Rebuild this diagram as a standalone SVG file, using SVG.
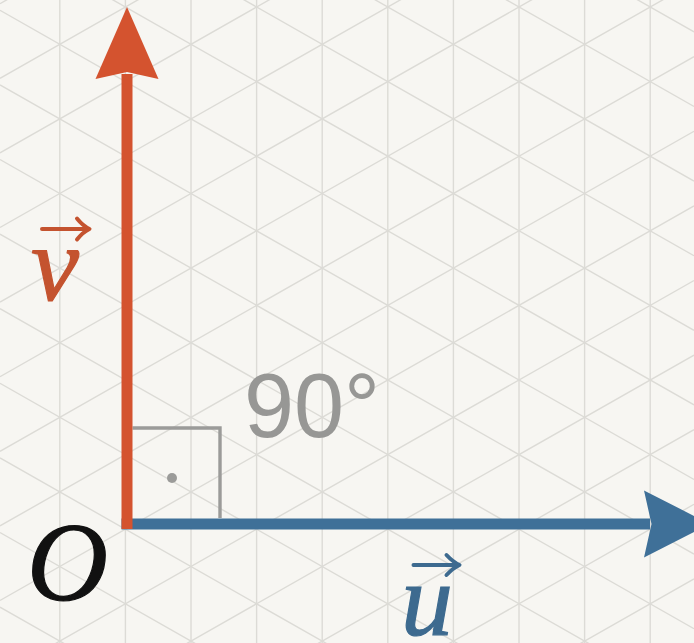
<svg xmlns="http://www.w3.org/2000/svg" width="694" height="643" viewBox="0 0 694 643">
<style>
.grid{fill:none;stroke:#dcdbd6;stroke-width:1.4}
.mark{fill:none;stroke:#9b9b99;stroke-width:3.4}
.vlab{font-family:"Liberation Serif","Times New Roman",serif;font-style:italic;stroke-width:1.2}
.vecv{fill:none;stroke:#c4532f;stroke-width:4;stroke-linecap:round;stroke-linejoin:round}
.vecu{fill:none;stroke:#3d6a8f;stroke-width:4;stroke-linecap:round;stroke-linejoin:round}
</style>
<rect width="694" height="643" fill="#f7f6f2"/>
<g id="grid" class="grid">
<path d="M59.8 0V643M125.4 0V643M191 0V643M256.6 0V643M322.2 0V643M387.8 0V643M453.4 0V643M519 0V643M584.6 0V643M650.2 0V643"/>
<path d="M0 -362.7L694 31.9M0 -288.1L694 106.5M0 -213.5L694 181.1M0 -138.9L694 255.7M0 -64.3L694 330.3M0 10.3L694 404.9M0 84.9L694 479.5M0 159.5L694 554.1M0 234.1L694 628.7M0 308.7L694 703.3M0 383.3L694 777.9M0 457.9L694 852.5M0 532.5L694 927.1M0 607.1L694 1001.7"/>
<path d="M0 3.7L694 -390.9M0 78.3L694 -316.3M0 152.9L694 -241.7M0 227.5L694 -167.1M0 302.1L694 -92.5M0 376.7L694 -17.9M0 451.3L694 56.7M0 525.9L694 131.3M0 600.5L694 205.9M0 675.1L694 280.5M0 749.7L694 355.1M0 824.3L694 429.7M0 898.9L694 504.3M0 973.5L694 578.9"/>
</g>
<g id="right-angle">
<path class="mark" d="M132.5 428H220V518"/>
<circle cx="172" cy="478" r="5" fill="#9b9b99"/>
</g>
<g id="connectors">
<g id="vector-u">
<path d="M121.5 524H650" stroke="#3f7098" stroke-width="11" fill="none"/>
<path d="M710 524L644 490.5L651.5 524L644 557.5Z" fill="#3f7098"/>
</g>
<g id="vector-v">
<path d="M127 529V74" stroke="#d4532f" stroke-width="11" fill="none"/>
<path d="M127 7L158.5 79L127 72L95.5 79Z" fill="#d4532f"/>
</g>
</g>
<g id="label-angle">
<text x="244" y="437" font-family="Liberation Sans, Arial, sans-serif" font-size="90" fill="#979795">90°</text>
</g>
<g id="label-O">
<text class="vlab" x="27" y="600" font-size="112" fill="#111" stroke="#111">O</text>
</g>
<g id="label-v">
<text class="vlab" x="31" y="300" font-size="108" fill="#c4532f" stroke="#c4532f">v</text>
<path class="vecv" d="M42 229H89M77 218.5Q83 226 89.5 229Q83 232 77 239.5"/>
</g>
<g id="label-u">
<text class="vlab" x="401" y="635" font-size="104" fill="#3d6a8f" stroke="#3d6a8f">u</text>
<path class="vecu" d="M413.5 565H459M446.5 555Q453 562 459.5 565Q453 568 446.5 575"/>
</g>
</svg>
